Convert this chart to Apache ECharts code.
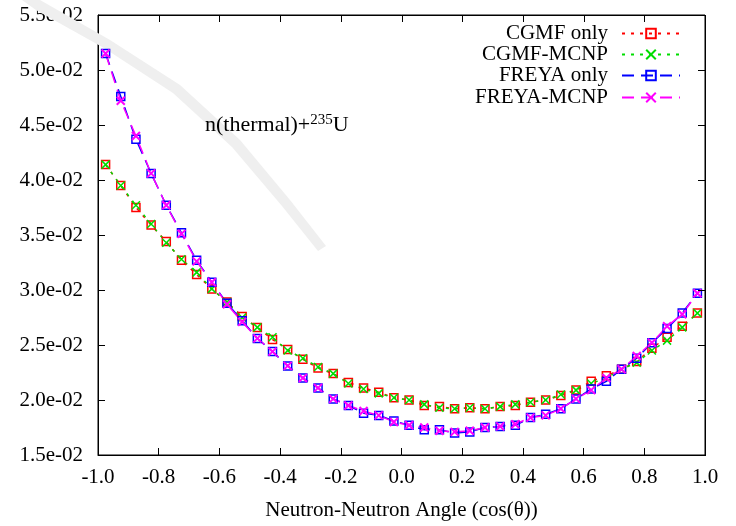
<!DOCTYPE html>
<html>
<head>
<meta charset="utf-8">
<script src="https://cdn.jsdelivr.net/npm/echarts@6/dist/echarts.min.js"></script>
<style>html,body{margin:0;padding:0;background:#fff;}#c{width:736px;height:526px;}</style>
</head>
<body>
<div id="c"></div>
<script>
const cosTheta = [-0.975,-0.925,-0.875,-0.825,-0.775,-0.725,-0.675,-0.625,-0.575,-0.525,-0.475,-0.425,-0.375,-0.325,-0.275,-0.225,-0.175,-0.125,-0.075,-0.025,0.025,0.075,0.125,0.175,0.225,0.275,0.325,0.375,0.425,0.475,0.525,0.575,0.625,0.675,0.725,0.775,0.825,0.875,0.925,0.975];
const cgmfOnly = [0.0414,0.0395,0.0375,0.0359,0.0344,0.0327,0.0314,0.0301,0.0289,0.0276,0.0266,0.0255,0.0246,0.0237,0.0229,0.0224,0.0216,0.0211,0.0207,0.0202,0.0200,0.0195,0.0194,0.0192,0.0193,0.0192,0.0194,0.0195,0.0198,0.0200,0.0204,0.0209,0.0217,0.0222,0.0228,0.0235,0.0247,0.0257,0.0267,0.0279];
const cgmfMcnp = [0.0414,0.0395,0.0377,0.0360,0.0343,0.0328,0.0316,0.0301,0.0289,0.0275,0.0266,0.0257,0.0245,0.0238,0.0230,0.0224,0.0215,0.0210,0.0206,0.0202,0.0200,0.0196,0.0193,0.0192,0.0193,0.0192,0.0194,0.0196,0.0198,0.0200,0.0205,0.0209,0.0215,0.0220,0.0228,0.0234,0.0245,0.0254,0.0266,0.0279];
const freyaOnly = [0.0515,0.0476,0.0437,0.0406,0.0377,0.0352,0.0327,0.0307,0.0288,0.0272,0.0256,0.0244,0.0231,0.0220,0.0211,0.0201,0.0195,0.0188,0.0186,0.0181,0.0177,0.0173,0.0173,0.0170,0.0171,0.0175,0.0176,0.0177,0.0184,0.0187,0.0192,0.0201,0.0210,0.0217,0.0228,0.0238,0.0252,0.0265,0.0279,0.0297];
const freyaMcnp = [0.0515,0.0472,0.0440,0.0406,0.0377,0.0351,0.0326,0.0307,0.0287,0.0271,0.0256,0.0244,0.0231,0.0220,0.0211,0.0201,0.0195,0.0190,0.0186,0.0180,0.0177,0.0175,0.0172,0.0171,0.0172,0.0175,0.0176,0.0178,0.0184,0.0186,0.0192,0.0201,0.0209,0.0220,0.0228,0.0240,0.0252,0.0267,0.0278,0.0297];
const seriesNames = ['CGMF only','CGMF-MCNP','FREYA only','FREYA-MCNP'];
const xTicks = [-1.0,-0.8,-0.6,-0.4,-0.2,0.0,0.2,0.4,0.6,0.8,1.0];
const yTicks = [0.015,0.020,0.025,0.030,0.035,0.040,0.045,0.050,0.055];
const xTitle = 'Neutron-Neutron Angle (cos(\u03b8))';

const FONT = '"Liberation Serif", "DejaVu Serif", serif';
const FS = 21;
const G = { left: 98, right: 31, top: 15, bottom: 67 };
const pairs = arr => cosTheta.map((x, i) => [x, arr[i]]);
const xSym = 'path://M0,0L10,10M10,0L0,10';

function mkSeries(name, data, color, dash, symbol, bw) {
  return {
    name, type: 'line', data: pairs(data),
    symbol, symbolSize: 8, showSymbol: true,
    lineStyle: { color, width: 1.5, type: dash },
    itemStyle: { color: 'none', borderColor: color, borderWidth: bw },
    animation: false
  };
}
function mkLegend(name, top) {
  return {
    data: [name], right: 55, top, orient: 'horizontal', align: 'right',
    itemWidth: 58, itemHeight: 12, padding: 0,
    textStyle: { fontFamily: FONT, fontSize: FS, color: '#000', padding: [0, 9, 0, 0] },
    selectedMode: false
  };
}
const yFmt = v => v.toExponential(1).replace(/e([+-])(\d)$/, 'e$10$2');

const chart = echarts.init(document.getElementById('c'), null, { renderer: 'canvas' });
try {
  chart.setOption({
    backgroundColor: '#fff',
    animation: false,
    grid: { left: G.left, right: G.right, top: G.top, bottom: G.bottom, show: true, borderColor: '#000', borderWidth: 1 },
    legend: [mkLegend(seriesNames[0], 23), mkLegend(seriesNames[1], 44), mkLegend(seriesNames[2], 65), mkLegend(seriesNames[3], 87)],
    xAxis: {
      type: 'value', min: -1, max: 1, interval: 0.2,
      axisLine: { show: true, onZero: false, lineStyle: { color: '#000', width: 1 } },
      axisTick: { show: true, inside: true, length: 7, lineStyle: { color: '#000' } },
      splitLine: { show: false },
      axisLabel: { fontFamily: FONT, fontSize: FS, color: '#000', margin: 12, formatter: v => v.toFixed(1) },
      name: xTitle, nameLocation: 'middle', nameGap: 45,
      nameTextStyle: { fontFamily: FONT, fontSize: FS, color: '#000' }
    },
    yAxis: {
      type: 'value', min: 0.015, max: 0.055, interval: 0.005,
      axisLine: { show: true, onZero: false, lineStyle: { color: '#000', width: 1 } },
      axisTick: { show: true, inside: true, length: 7, lineStyle: { color: '#000' } },
      splitLine: { show: false },
      axisLabel: { fontFamily: FONT, fontSize: FS, color: '#000', margin: 15, formatter: yFmt }
    },
    series: [
      mkSeries(seriesNames[0], cgmfOnly, '#ff0000', [3, 6], 'rect', 1.5),
      mkSeries(seriesNames[1], cgmfMcnp, '#00dd00', [3, 6], xSym, 1.5),
      mkSeries(seriesNames[2], freyaOnly, '#0000ff', [12, 7], 'rect', 1.5),
      mkSeries(seriesNames[3], freyaMcnp, '#ff00ff', [12, 7], xSym, 2)
    ]
  });
} catch (e) {}

const W = 736, H = 526;
function px(x, y) {
  try {
    const p = chart.convertToPixel({ gridIndex: 0 }, [x, y]);
    if (p && isFinite(p[0]) && isFinite(p[1])) return p;
  } catch (e) {}
  const pw = W - G.left - G.right, ph = H - G.top - G.bottom;
  return [G.left + (x - xTicks[0]) / (xTicks[xTicks.length - 1] - xTicks[0]) * pw,
          G.top + (yTicks[yTicks.length - 1] - y) / (yTicks[yTicks.length - 1] - yTicks[0]) * ph];
}
const tl = px(xTicks[0], yTicks[yTicks.length - 1]);
const br = px(xTicks[xTicks.length - 1], yTicks[0]);
const x0 = Math.round(tl[0]), y0 = Math.round(tl[1]), x1 = Math.round(br[0]), y1 = Math.round(br[1]);

const graphics = [
  {
    id: 'streak', type: 'polygon', z: 1, silent: true,
    shape: { points: [[22, 0], [40, 0], [110, 40], [180, 85], [240, 140], [290, 200], [326, 246], [318, 251], [282, 206], [232, 147], [173, 93], [104, 48], [36, 10]] },
    style: { fill: '#efefef', stroke: null }
  },
  {
    id: 'note', type: 'text', left: 205, top: 113, silent: true, z: 60,
    style: {
      text: '{a|n(thermal)+}{s|235}{a|U}',
      rich: {
        a: { fontFamily: FONT, fontSize: 22, color: '#000' },
        s: { fontFamily: FONT, fontSize: 15, color: '#000', padding: [0, 0, 10, 0] }
      }
    }
  }
];
// frame: top and right edges as thin filled bars
graphics.push({ id: 'ftop', type: 'rect', silent: true, z: 60, shape: { x: x0, y: y0, width: x1 - x0 + 1, height: 1 }, style: { fill: '#000' } });
graphics.push({ id: 'fright', type: 'rect', silent: true, z: 60, shape: { x: x1, y: y0, width: 1, height: y1 - y0 + 1 }, style: { fill: '#000' } });
xTicks.slice(1, -1).forEach((t, i) => {
  const x = Math.round(px(t, yTicks[0])[0]);
  graphics.push({ id: 'tx' + i, type: 'rect', silent: true, z: 60, shape: { x: x, y: y0, width: 1, height: 7 }, style: { fill: '#000' } });
});
yTicks.slice(1, -1).forEach((t, i) => {
  const y = Math.round(px(xTicks[0], t)[1]);
  graphics.push({ id: 'ty' + i, type: 'rect', silent: true, z: 60, shape: { x: x1 - 7, y: y, width: 7, height: 1 }, style: { fill: '#000' } });
});
try { chart.setOption({ graphic: graphics }); } catch (e) {}
</script>
</body>
</html>
